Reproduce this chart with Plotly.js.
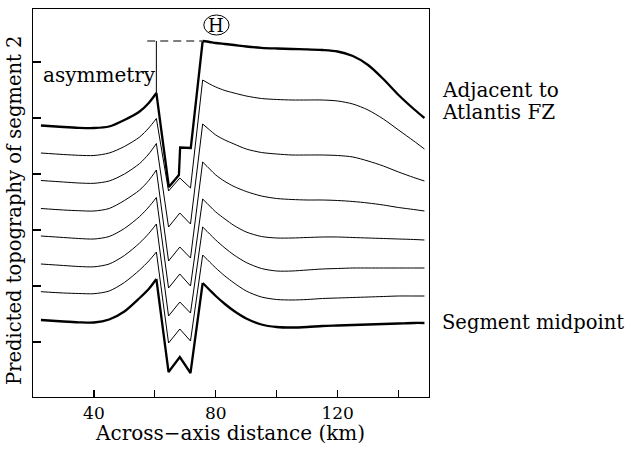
<!DOCTYPE html>
<html>
<head>
<meta charset="utf-8">
<script src="https://cdn.plot.ly/plotly-3.0.1.min.js"></script>
<style>
  html, body { margin: 0; padding: 0; background: #fff; }
  #chart { width: 631px; height: 454px; }
</style>
</head>
<body>
<div id="chart"></div>
<script>
// Across-axis distance (km) sampled for the profiles; the trough holds
// the left rift shoulder, two inner floors with a central high, and the right shoulder.
const distKm = [22.6, 30, 35, 40, 45, 50, 55, 58, 60.5, 64.5, 68.2, 71.7, 75.7, 78, 80, 83, 86,
                90, 95, 100, 105, 110, 115, 120, 125, 130, 135, 140, 145, 148.5];
// Profile next to the transform: the inner floor steps up onto a shelf.
const distKmFZ = [22.6, 30, 35, 40, 45, 50, 55, 58, 60.5, 64.6, 67.9, 68.3, 71.8, 75.7, 78, 80, 83, 86,
                  90, 95, 100, 105, 110, 115, 120, 125, 130, 135, 140, 145, 148.5];

// Predicted topography (m), each profile stacked with its own offset.
const topoFZ = [2725, 2710, 2702, 2700, 2715, 2780, 2865, 2950, 3050,
                2110, 2230, 2505, 2500,
                3570, 3560, 3550, 3540, 3530, 3515, 3502, 3495, 3490, 3487, 3480, 3465, 3420, 3330, 3190, 3030, 2890, 2800];
const topo2 = [2450, 2435, 2427, 2425, 2450, 2515, 2610, 2700, 2795,
               2070, 2200, 2100,
               3180, 3140, 3110, 3075, 3050, 3020, 2995, 2985, 2980, 2980, 2980, 2970, 2940, 2880, 2790, 2680, 2570, 2490];
const topo3 = [2175, 2160, 2150, 2147, 2170, 2240, 2345, 2440, 2545,
               1710, 1850, 1740,
               2740, 2680, 2630, 2580, 2540, 2490, 2455, 2440, 2430, 2430, 2430, 2425, 2410, 2370, 2320, 2260, 2205, 2170];
const topo4 = [1895, 1880, 1873, 1870, 1895, 1975, 2080, 2175, 2280,
               1370, 1510, 1400,
               2360, 2290, 2230, 2165, 2115, 2065, 2020, 1995, 1985, 1980, 1980, 1975, 1965, 1950, 1930, 1905, 1885, 1870];
const topo5 = [1620, 1605, 1595, 1590, 1615, 1695, 1815, 1910, 2005,
               1100, 1240, 1120,
               1990, 1920, 1860, 1790, 1725, 1660, 1615, 1600, 1600, 1605, 1610, 1610, 1605, 1600, 1595, 1590, 1585, 1580];
const topo6 = [1340, 1325, 1315, 1312, 1340, 1425, 1550, 1645, 1740,
               820, 960, 850,
               1710, 1640, 1580, 1500, 1430, 1355, 1295, 1270, 1270, 1280, 1290, 1295, 1300, 1300, 1300, 1300, 1300, 1300];
const topo7 = [1063, 1050, 1045, 1043, 1070, 1155, 1280, 1370, 1460,
               550, 690, 570,
               1430, 1360, 1300, 1220, 1150, 1070, 1010, 985, 980, 985, 995, 1000, 1005, 1010, 1015, 1020, 1020, 1020];
const topoMid = [780, 765, 757, 755, 785, 865, 1000, 1090, 1190,
                 260, 410, 250,
                 1150, 1080, 1020, 940, 870, 795, 735, 710, 705, 710, 720, 725, 730, 735, 740, 745, 750, 750];

const LEFT_CREST_KM = 60.5;
const RIGHT_CREST_KM = 75.7;

const xTicks = [40, 60, 80, 100, 120, 140];
const xTickText = ['40', '', '80', '', '120', ''];
const yTicks = [560, 1120, 1680, 2240, 2800, 3360];

const SERIF = 'DejaVu Serif, serif';

// Each profile is drawn as smooth flanks and a sharp-cornered trough.
function profileTraces(x, y, w) {
  const iL = x.indexOf(LEFT_CREST_KM);
  const iR = x.indexOf(RIGHT_CREST_KM);
  const base = { type: 'scatter', mode: 'lines', hoverinfo: 'skip' };
  return [
    Object.assign({}, base, { x: x.slice(0, iL + 1), y: y.slice(0, iL + 1),
      line: { color: '#000', width: w, shape: 'spline', smoothing: 0.8 } }),
    Object.assign({}, base, { x: x.slice(iL, iR + 1), y: y.slice(iL, iR + 1),
      line: { color: '#000', width: w, shape: 'linear' } }),
    Object.assign({}, base, { x: x.slice(iR), y: y.slice(iR),
      line: { color: '#000', width: w, shape: 'spline', smoothing: 0.8 } })
  ];
}

const traces = [].concat(
  profileTraces(distKmFZ, topoFZ, 2.3),
  profileTraces(distKm, topo2, 1),
  profileTraces(distKm, topo3, 1),
  profileTraces(distKm, topo4, 1),
  profileTraces(distKm, topo5, 1),
  profileTraces(distKm, topo6, 1),
  profileTraces(distKm, topo7, 1),
  profileTraces(distKm, topoMid, 2.3)
);

// Shoulder asymmetry of the profile next to the transform:
// right-shoulder crest carried across (dashed) and dropped to the left crest.
const iLeft = distKmFZ.indexOf(LEFT_CREST_KM);
const crestR = Math.max(...topoFZ);
const iRight = topoFZ.indexOf(crestR);
traces.push({
  x: [distKmFZ[iLeft] - 3, distKmFZ[iRight]], y: [crestR, crestR],
  type: 'scatter', mode: 'lines', hoverinfo: 'skip',
  line: { color: '#555', width: 1.3, dash: '8px,5px' }
});
traces.push({
  x: [distKmFZ[iLeft], distKmFZ[iLeft]], y: [topoFZ[iLeft], crestR],
  type: 'scatter', mode: 'lines', hoverinfo: 'skip',
  line: { color: '#000', width: 1 }
});

const sideX = 1.028; // just right of the frame

const layout = {
  width: 631, height: 454,
  margin: { l: 33, r: 202, t: 9, b: 57, pad: 0 },
  paper_bgcolor: '#fff', plot_bgcolor: '#fff',
  showlegend: false,
  font: { family: SERIF, color: '#000' },
  xaxis: {
    range: [20, 150], tickvals: xTicks, ticktext: xTickText,
    ticks: 'inside', ticklen: 7, tickwidth: 1.2, tickcolor: '#000',
    showline: true, linecolor: '#000', linewidth: 1.4, mirror: true,
    showgrid: false, zeroline: false, fixedrange: true,
    tickfont: { family: SERIF, size: 17, color: '#000' }
  },
  yaxis: {
    range: [10, 3890], tickvals: yTicks, showticklabels: false,
    ticks: 'inside', ticklen: 8, tickwidth: 1.2, tickcolor: '#000',
    showline: true, linecolor: '#000', linewidth: 1.4, mirror: true,
    showgrid: false, zeroline: false, fixedrange: true
  },
  shapes: [
    { type: 'circle', xref: 'x', yref: 'y', x0: 76.07, x1: 84.36, y0: 3630, y1: 3830,
      line: { color: '#000', width: 1 } }
  ],
  annotations: [
    { text: 'H', xref: 'x', yref: 'y', x: 80.2, y: 3730, showarrow: false,
      xanchor: 'center', yanchor: 'middle', font: { family: SERIF, size: 18 } },
    { text: 'asymmetry', xref: 'x', yref: 'y', x: 22.6, y: 3230, showarrow: false,
      xanchor: 'left', yanchor: 'middle', font: { family: SERIF, size: 20 } },
    { text: 'Adjacent to', xref: 'paper', yref: 'y', x: sideX, y: 3080, showarrow: false,
      xanchor: 'left', yanchor: 'middle', font: { family: SERIF, size: 20 } },
    { text: 'Atlantis FZ', xref: 'paper', yref: 'y', x: sideX, y: 2860, showarrow: false,
      xanchor: 'left', yanchor: 'middle', font: { family: SERIF, size: 20 } },
    { text: 'Segment midpoint', xref: 'paper', yref: 'y', x: sideX, y: 760, showarrow: false,
      xanchor: 'left', yanchor: 'middle', font: { family: SERIF, size: 19.5 } },
    { text: 'Across\u2212axis distance (km)', xref: 'paper', yref: 'paper', x: 0.4975, y: -0.0928,
      showarrow: false, xanchor: 'center', yanchor: 'middle', font: { family: SERIF, size: 20 } },
    { text: 'Predicted topography of segment 2', xref: 'paper', yref: 'paper', x: -0.0455, y: 0.482,
      textangle: -90, showarrow: false, xanchor: 'center', yanchor: 'middle',
      font: { family: SERIF, size: 19.5 } }
  ]
};

Plotly.newPlot('chart', traces, layout, { staticPlot: true, displayModeBar: false });
</script>
</body>
</html>
